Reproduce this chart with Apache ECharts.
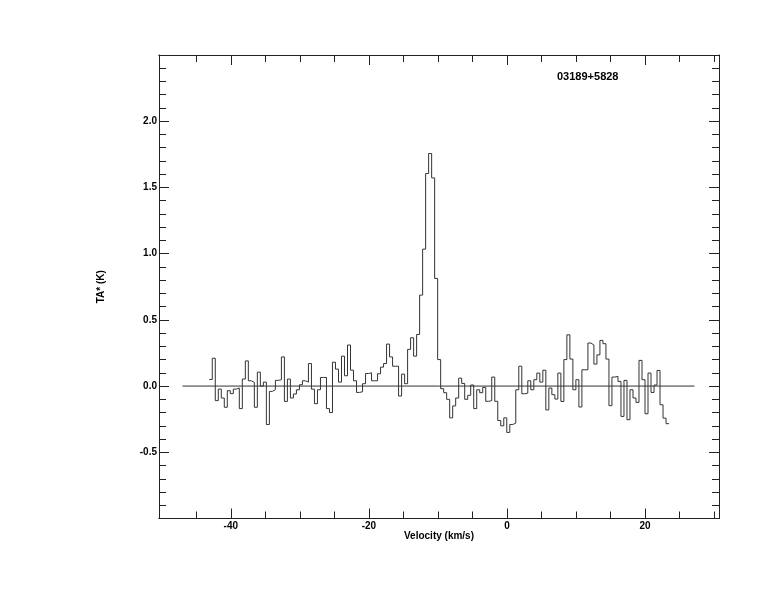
<!DOCTYPE html>
<html>
<head>
<meta charset="utf-8">
<script src="https://cdn.jsdelivr.net/npm/echarts@6/dist/echarts.min.js"></script>
<style>
  html, body { margin: 0; padding: 0; background: #fff; }
  #chart { width: 774px; height: 612px; }
</style>
</head>
<body>
<div id="chart"></div>
<script>
// ---- data ----
const sourceName = '03189+5828';
const xAxisTitle = 'Velocity (km/s)';
const yAxisTitle = 'TA* (K)';
// left edge of first channel and channel width (km/s)
const firstChannelLeft = -43.12;
const channelWidth = 0.4352;
// antenna temperature per channel (K)
const antennaTemp = [
  0.05, 0.21, -0.11, -0.023, -0.09, -0.16, -0.035, -0.057, -0.023, -0.015,
  -0.17, 0.053, 0.19, 0.04, 0.028, -0.16, 0.105, 0.0, 0.03, -0.29,
  -0.04, -0.028, 0.043, 0.048, 0.22, -0.116, 0.053, -0.09, -0.06, -0.028,
  0.01, 0.04, 0.03, 0.17, -0.023, -0.133, -0.028, 0.065, 0.065, -0.17,
  -0.20, 0.18, 0.128, 0.03, 0.226, 0.078, 0.31, 0.12, 0.04, -0.048,
  -0.043, 0.018, 0.095, 0.10, 0.04, 0.04, 0.093, 0.143, 0.17, 0.317,
  0.22, 0.15, 0.15, -0.075, 0.09, 0.018, 0.277, 0.365, 0.226, 0.39,
  0.687, 1.034, 1.605, 1.756, 1.572, 0.813, 0.2, -0.02, -0.05, -0.1,
  -0.24, -0.15, -0.09, 0.06, 0.02, -0.1, -0.07, 0.008, -0.17, -0.028,
  -0.05, -0.01, -0.115, -0.11, 0.068, -0.115, -0.26, -0.30, -0.24, -0.35,
  -0.29, -0.28, -0.028, 0.15, -0.058, -0.053, 0.04, -0.028, 0.048, 0.098,
  0.03, 0.12, -0.18, -0.015, -0.065, -0.098, 0.098, -0.116, 0.2, 0.387,
  0.204, -0.028, 0.048, -0.158, 0.123, 0.123, 0.325, 0.31, 0.166, 0.236,
  0.345, 0.32, 0.204, -0.148, 0.068, 0.073, 0.035, -0.229, 0.043, -0.254,
  -0.028, -0.09, -0.123, 0.194, 0.048, -0.209, 0.098, -0.048, 0.008, 0.118,
  -0.141, -0.242, -0.284
];
// zero-level baseline extent (km/s)
const baselineRange = [-47.0, 27.15];
// axis extents and ticks
const xRange = [-50.4, 30.7];
const yRange = [-1.0, 2.5];
const xMajorTicks = [-40, -20, 0, 20];
const xMinorTicks = [-45, -40, -35, -30, -25, -20, -15, -10, -5, 0, 5, 10, 15, 20, 25, 30];
const yTickLabels = [-0.5, 0.0, 0.5, 1.0, 1.5, 2.0];

// ---- build ----
const spectrum = antennaTemp.map((t, i) => [firstChannelLeft + i * channelWidth, t]);
spectrum.push([firstChannelLeft + antennaTemp.length * channelWidth, antennaTemp[antennaTemp.length - 1]]);

const FONT = '"Liberation Sans", Arial, sans-serif';
const AX = '#222';
const lbl = { fontFamily: FONT, fontSize: 10, fontWeight: 'bold', color: '#000' };

function xAx(pos, ticks, len, withLabels) {
  const a = {
    type: 'value', position: pos, min: xRange[0], max: xRange[1],
    axisLine: { show: true, onZero: false, lineStyle: { color: AX, width: 1 } },
    axisTick: { show: true, inside: true, length: len, customValues: ticks, lineStyle: { color: AX } },
    splitLine: { show: false },
    axisLabel: { show: false }
  };
  if (withLabels) {
    a.axisLabel = { show: true, customValues: xMajorTicks, margin: 3, formatter: v => String(v), ...lbl };
    a.name = xAxisTitle;
    a.nameLocation = 'middle';
    a.nameGap = 13;
    a.nameMoveOverlap = false;
    a.nameTextStyle = lbl;
  }
  return a;
}
function yAx(pos, withLabels) {
  const a = {
    type: 'value', position: pos, min: yRange[0], max: yRange[1], interval: 0.5,
    axisLine: { show: true, onZero: false, lineStyle: { color: AX, width: 1 } },
    axisTick: { show: true, inside: true, length: 10, lineStyle: { color: AX } },
    minorTick: { show: true, splitNumber: 5, length: 7, lineStyle: { color: AX } },
    splitLine: { show: false },
    minorSplitLine: { show: false },
    axisLabel: { show: false }
  };
  if (withLabels) {
    a.axisLabel = { show: true, customValues: yTickLabels, margin: 2, formatter: v => v.toFixed(1), ...lbl };
    a.name = yAxisTitle;
    a.nameLocation = 'middle';
    a.nameRotate = 90;
    a.nameGap = 53;
    a.nameMoveOverlap = false;
    a.nameTextStyle = lbl;
  }
  return a;
}

const chart = echarts.init(document.getElementById('chart'), null, { renderer: 'canvas' });
chart.setOption({
  animation: false,
  backgroundColor: '#fff',
  title: {
    text: sourceName, left: 552, top: 66,
    textStyle: { fontFamily: FONT, fontSize: 11, fontWeight: 'bold', color: '#000' }
  },
  grid: { left: 159, right: 55, top: 55, bottom: 93.5, containLabel: false },
  xAxis: [
    xAx('bottom', xMinorTicks, 7, true),
    xAx('bottom', xMajorTicks, 10, false),
    xAx('top', xMinorTicks, 7, false),
    xAx('top', xMajorTicks, 10, false)
  ],
  yAxis: [ yAx('left', true), yAx('right', false) ],
  series: [
    {
      type: 'line', xAxisIndex: 0, yAxisIndex: 0,
      data: baselineRange.map(v => [v, 0]),
      showSymbol: false, silent: true,
      lineStyle: { color: '#333', width: 1 }
    },
    {
      type: 'line', xAxisIndex: 0, yAxisIndex: 0,
      data: spectrum, step: 'end',
      showSymbol: false, silent: true,
      lineStyle: { color: '#333', width: 1 }
    }
  ]
});
</script>
</body>
</html>
